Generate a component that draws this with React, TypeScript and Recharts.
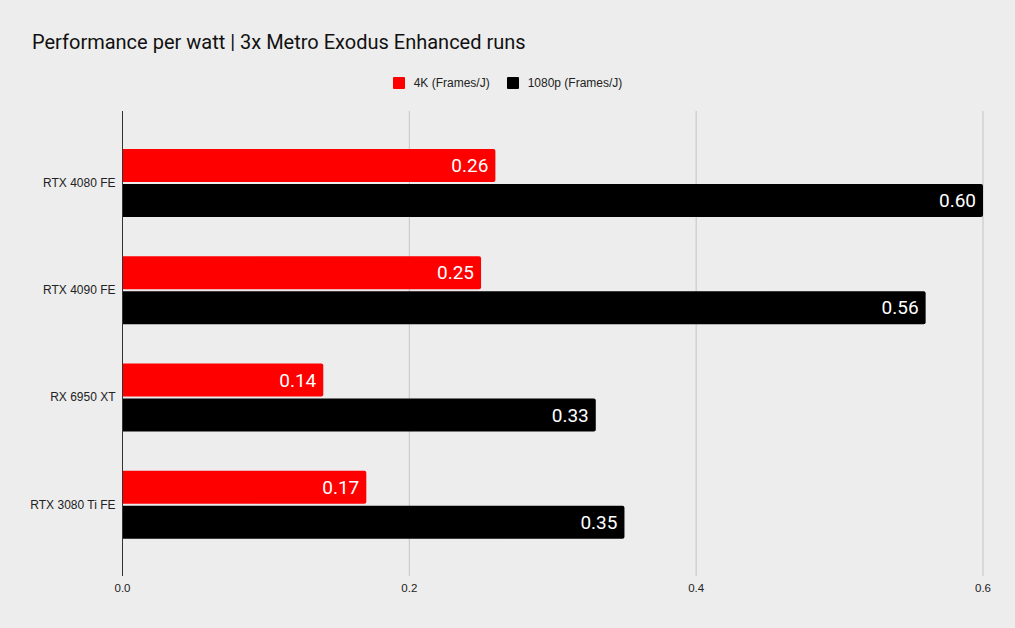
import { Bar, BarChart, CartesianGrid, LabelList, XAxis, YAxis } from "recharts";

const gpus = ["RTX 4080 FE", "RTX 4090 FE", "RX 6950 XT", "RTX 3080 Ti FE"];
const fps4k = [0.26, 0.25, 0.14, 0.17];
const fps1080 = [0.6, 0.56, 0.33, 0.35];
const xTicks = [0, 0.2, 0.4, 0.6];

const series = [
  { key: "k4", name: "4K (Frames/J)", color: "#ff0000" },
  { key: "p1080", name: "1080p (Frames/J)", color: "#000000" }
];

const data = gpus.map((name, i) => ({ name, k4: fps4k[i], p1080: fps1080[i] }));

const font = "Roboto, 'Noto Sans', sans-serif";
const smallFont = "'Liberation Sans', Arial, sans-serif";

export default function App() {
  return (
    <div
      style={{
        position: "absolute",
        left: 0,
        top: 0,
        width: 1015,
        height: 628,
        background: "#ededed",
        fontFamily: font
      }}
    >
      <div style={{ position: "absolute", left: 32, top: 30, fontSize: 20, color: "#111", whiteSpace: "nowrap" }}>
        Performance per watt | 3x Metro Exodus Enhanced runs
      </div>
      <div
        style={{
          position: "absolute",
          left: 0,
          top: 76,
          width: 1015,
          display: "flex",
          justifyContent: "center",
          gap: 17,
          fontSize: 12,
          fontFamily: smallFont,
          color: "#222"
        }}
      >
        {series.map((s) => (
          <div key={s.key} style={{ display: "flex", alignItems: "center", gap: 9 }}>
            <span style={{ display: "inline-block", width: 12, height: 12, background: s.color, borderRadius: 1 }} />
            <span>{s.name}</span>
          </div>
        ))}
      </div>
      <div style={{ position: "absolute", left: 0, top: 0 }}>
        <BarChart
          width={1015}
          height={628}
          data={data}
          layout="vertical"
          margin={{ top: 111, right: 32, bottom: 22, left: 0 }}
          barGap={2}
        >
          <CartesianGrid horizontal={false} stroke="#c4c4c4" />
          <XAxis
            type="number"
            domain={[0, 0.6]}
            ticks={xTicks}
            tickFormatter={(v: number) => v.toFixed(1)}
            axisLine={false}
            tickLine={false}
            tickSize={0}
            tickMargin={8}
            height={30}
            tick={{ fontSize: 11.5, fill: "#222", fontFamily: smallFont }}
          />
          <YAxis
            type="category"
            dataKey="name"
            width={122.5}
            axisLine={{ stroke: "#333" }}
            tickLine={false}
            tickSize={0}
            tickMargin={7}
            padding={{ top: 18, bottom: 18 }}
            tick={{ fontSize: 12, fill: "#222", fontFamily: smallFont }}
          />
          {series.map((s) => (
            <Bar key={s.key} dataKey={s.key} name={s.name} fill={s.color} barSize={33} radius={[0, 2, 2, 0]} isAnimationActive={false}>
              <LabelList
                dataKey={s.key}
                position="insideRight"
                offset={7}
                fill="#ffffff"
                fontSize={19}
                fontFamily={font}
                formatter={(v: any) => Number(v).toFixed(2)}
              />
            </Bar>
          ))}
        </BarChart>
      </div>
    </div>
  );
}
